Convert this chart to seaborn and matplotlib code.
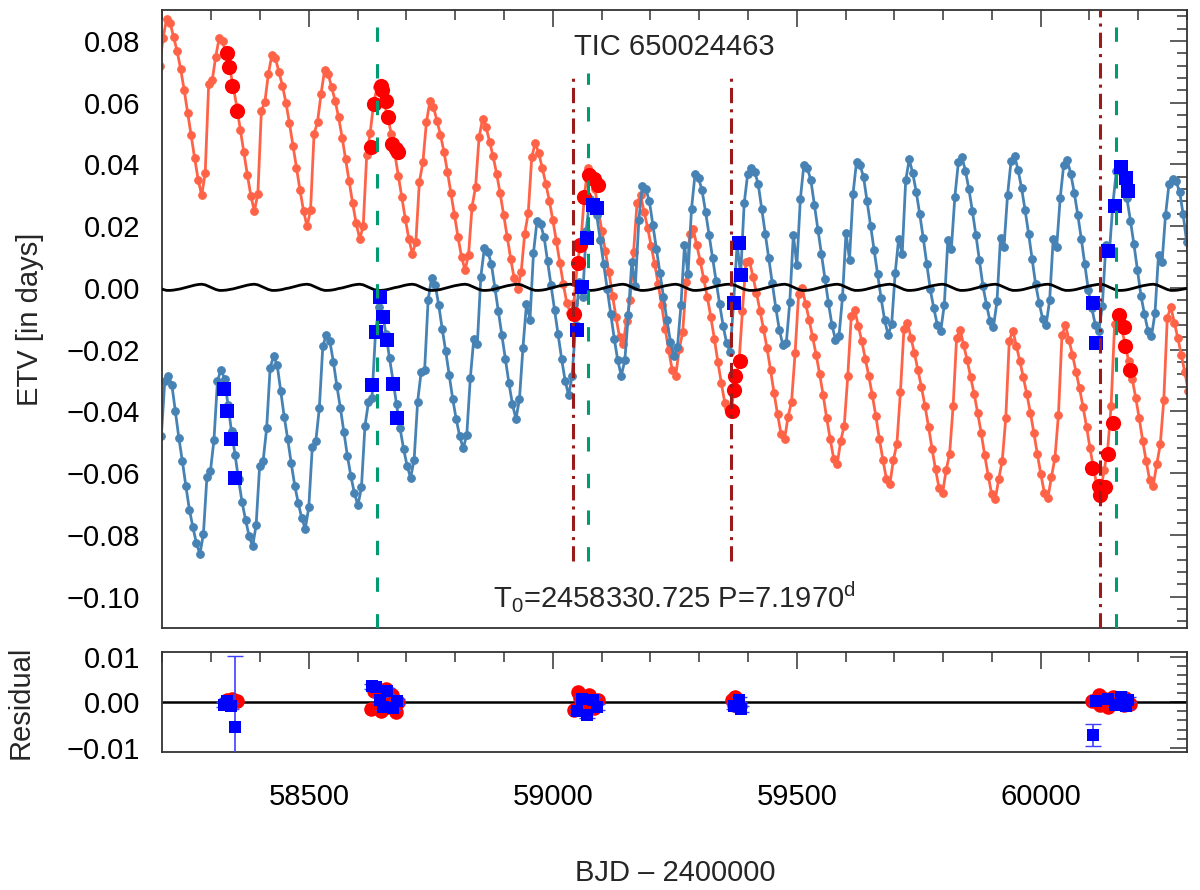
import numpy as np
import pandas as pd
import matplotlib
matplotlib.use("Agg")
import matplotlib.pyplot as plt
import seaborn as sns
from matplotlib.ticker import MultipleLocator, FuncFormatter

T0 = 58330.725
P = 7.1970
cycle = np.arange(-19, 275)

# model ETV at every cycle, one row per oscillation
prim_model = [
    0.0720, 0.0810,
    0.0870, 0.0859, 0.0813, 0.0767, 0.0710, 0.0642, 0.0568, 0.0494, 0.0420, 0.0351, 0.0300, 0.0371, 0.0662, 0.0672, 0.0749,
    0.0810, 0.0799, 0.0754, 0.0709, 0.0653, 0.0586, 0.0513, 0.0440, 0.0367, 0.0299, 0.0249, 0.0305, 0.0573, 0.0603, 0.0694,
    0.0755, 0.0744, 0.0700, 0.0655, 0.0600, 0.0533, 0.0461, 0.0389, 0.0317, 0.0250, 0.0200, 0.0251, 0.0498, 0.0538, 0.0629,
    0.0705, 0.0694, 0.0651, 0.0607, 0.0552, 0.0487, 0.0416, 0.0345, 0.0274, 0.0209, 0.0160, 0.0199, 0.0430, 0.0503, 0.0601,
    0.0650, 0.0639, 0.0596, 0.0553, 0.0499, 0.0434, 0.0364, 0.0294, 0.0223, 0.0159, 0.0110, 0.0150, 0.0343, 0.0407, 0.0536,
    0.0605, 0.0586, 0.0542, 0.0496, 0.0441, 0.0376, 0.0306, 0.0235, 0.0165, 0.0101, 0.0058, 0.0107, 0.0263, 0.0327, 0.0488,
    0.0547, 0.0521, 0.0474, 0.0426, 0.0370, 0.0306, 0.0237, 0.0165, 0.0095, 0.0031, -0.0005, 0.0052, 0.0176, 0.0242, 0.0423,
    0.0470, 0.0436, 0.0389, 0.0338, 0.0283, 0.0220, 0.0152, 0.0081, 0.0012, -0.0050, -0.0080, -0.0050, 0.0080, 0.0150, 0.0300,
    0.0390, 0.0360, 0.0320, 0.0250, 0.0184, 0.0120, 0.0050, -0.0025, -0.0095, -0.0159, -0.0183, -0.0106, -0.0038, 0.0116, 0.0276,
    0.0300, 0.0247, 0.0195, 0.0136, 0.0078, 0.0014, -0.0056, -0.0132, -0.0202, -0.0266, -0.0284, -0.0199, -0.0142, 0.0019, 0.0176,
    0.0190, 0.0138, 0.0086, 0.0028, -0.0030, -0.0094, -0.0164, -0.0239, -0.0309, -0.0373, -0.0390, -0.0385, -0.0290, -0.0247, -0.0075, 0.0083,
    0.0088, 0.0036, -0.0016, -0.0074, -0.0132, -0.0195, -0.0265, -0.0340, -0.0409, -0.0473, -0.0490, -0.0417, -0.0368, -0.0211, -0.0020,
    0.0000, -0.0051, -0.0103, -0.0160, -0.0217, -0.0279, -0.0348, -0.0422, -0.0490, -0.0553, -0.0570, -0.0495, -0.0446, -0.0286, -0.0092,
    -0.0072, -0.0123, -0.0173, -0.0230, -0.0286, -0.0348, -0.0415, -0.0489, -0.0556, -0.0618, -0.0635, -0.0557, -0.0504, -0.0337, -0.0133,
    -0.0112, -0.0162, -0.0212, -0.0267, -0.0322, -0.0383, -0.0449, -0.0521, -0.0588, -0.0648, -0.0665, -0.0591, -0.0538, -0.0384, -0.0161,
    -0.0135, -0.0185, -0.0234, -0.0289, -0.0344, -0.0405, -0.0470, -0.0542, -0.0608, -0.0669, -0.0685, -0.0619, -0.0559, -0.0422, -0.0171,
    -0.0138, -0.0187, -0.0236, -0.0290, -0.0344, -0.0404, -0.0469, -0.0539, -0.0604, -0.0664, -0.0680, -0.0613, -0.0551, -0.0411, -0.0154,
    -0.0120, -0.0169, -0.0217, -0.0271, -0.0325, -0.0385, -0.0449, -0.0520, -0.0584, -0.0644, -0.0660, -0.0591, -0.0527, -0.0383, -0.0117,
    -0.0082, -0.0132, -0.0182, -0.0238, -0.0294, -0.0355, -0.0422, -0.0495, -0.0562, -0.0623, -0.0640, -0.0571, -0.0507, -0.0363, -0.0097,
    -0.0062, -0.0112, -0.0162, -0.0217, -0.0273, -0.0335,
]

sec_model = [
    -0.0480, -0.0300,
    -0.0284, -0.0313, -0.0400, -0.0486, -0.0561, -0.0642, -0.0718, -0.0775, -0.0827, -0.0862, -0.0796, -0.0611, -0.0593, -0.0492, -0.0301,
    -0.0265, -0.0294, -0.0379, -0.0465, -0.0540, -0.0620, -0.0694, -0.0751, -0.0803, -0.0837, -0.0769, -0.0578, -0.0560, -0.0455, -0.0258,
    -0.0221, -0.0249, -0.0333, -0.0417, -0.0489, -0.0568, -0.0640, -0.0696, -0.0746, -0.0780, -0.0711, -0.0516, -0.0497, -0.0390, -0.0189,
    -0.0151, -0.0173, -0.0239, -0.0317, -0.0389, -0.0466, -0.0544, -0.0610, -0.0665, -0.0704, -0.0646, -0.0447, -0.0370, -0.0357, -0.0145,
    -0.0062, -0.0084, -0.0150, -0.0228, -0.0300, -0.0377, -0.0455, -0.0521, -0.0576, -0.0615, -0.0557, -0.0369, -0.0272, -0.0265, -0.0038,
    0.0033, 0.0011, -0.0055, -0.0133, -0.0205, -0.0282, -0.0360, -0.0426, -0.0481, -0.0520, -0.0475, -0.0293, -0.0164, -0.0183, 0.0037,
    0.0128, 0.0117, 0.0078, 0.0001, -0.0076, -0.0154, -0.0231, -0.0308, -0.0377, -0.0424, -0.0360, -0.0193, -0.0052, -0.0103, 0.0114,
    0.0217, 0.0206, 0.0166, 0.0087, 0.0008, -0.0071, -0.0150, -0.0229, -0.0300, -0.0348, -0.0285, -0.0119, 0.0020, -0.0030, 0.0185,
    0.0287, 0.0276, 0.0236, 0.0156, 0.0076, -0.0004, -0.0084, -0.0164, -0.0235, -0.0284, -0.0235, -0.0087, 0.0085, 0.0005, 0.0220,
    0.0331, 0.0320, 0.0281, 0.0204, 0.0127, 0.0049, -0.0028, -0.0105, -0.0174, -0.0221, -0.0192, -0.0056, 0.0138, 0.0044, 0.0256,
    0.0368, 0.0356, 0.0316, 0.0247, 0.0172, 0.0097, 0.0022, -0.0052, -0.0122, -0.0179, -0.0208, -0.0047, 0.0143, 0.0042, 0.0274, 0.0369,
    0.0387, 0.0376, 0.0336, 0.0256, 0.0176, 0.0096, 0.0016, -0.0064, -0.0135, -0.0184, -0.0178, -0.0044, 0.0172, 0.0073, 0.0288,
    0.0399, 0.0388, 0.0348, 0.0269, 0.0189, 0.0110, 0.0030, -0.0049, -0.0120, -0.0168, -0.0156, -0.0030, 0.0178, 0.0092, 0.0305,
    0.0409, 0.0398, 0.0359, 0.0280, 0.0201, 0.0123, 0.0044, -0.0034, -0.0104, -0.0152, -0.0118, 0.0047, 0.0160, 0.0109, 0.0348,
    0.0416, 0.0372, 0.0311, 0.0239, 0.0161, 0.0078, -0.0005, -0.0066, -0.0119, -0.0138, -0.0054, 0.0154, 0.0126, 0.0295, 0.0407,
    0.0424, 0.0380, 0.0320, 0.0248, 0.0171, 0.0089, 0.0006, -0.0054, -0.0107, -0.0126, -0.0043, 0.0162, 0.0134, 0.0300, 0.0410,
    0.0427, 0.0383, 0.0323, 0.0252, 0.0176, 0.0094, 0.0012, -0.0048, -0.0100, -0.0119, -0.0039, 0.0158, 0.0132, 0.0291, 0.0398,
    0.0414, 0.0370, 0.0309, 0.0237, 0.0160, 0.0077, -0.0006, -0.0066, -0.0119, -0.0138, -0.0058, 0.0139, 0.0113, 0.0272, 0.0379,
    0.0395, 0.0351, 0.0290, 0.0218, 0.0141, 0.0058, -0.0025, -0.0085, -0.0138, -0.0157, -0.0081, 0.0108, 0.0083, 0.0236, 0.0338,
    0.0353, 0.0345, 0.0312, 0.0240, 0.0150, 0.0065,
]

mean_model = [
    0.0000, -0.0005,
    -0.0008, -0.0008, -0.0007, -0.0005, -0.0003, 0.0000, 0.0003, 0.0006, 0.0009, 0.0011, 0.0012, 0.0010, 0.0005, 0.0000, -0.0005,
    -0.0008, -0.0008, -0.0007, -0.0005, -0.0003, 0.0000, 0.0003, 0.0006, 0.0009, 0.0011, 0.0012, 0.0010, 0.0005, 0.0000, -0.0005,
    -0.0008, -0.0008, -0.0007, -0.0005, -0.0002, 0.0000, 0.0003, 0.0006, 0.0009, 0.0011, 0.0012, 0.0010, 0.0005, 0.0000, -0.0005,
    -0.0008, -0.0008, -0.0007, -0.0005, -0.0002, 0.0000, 0.0003, 0.0006, 0.0009, 0.0011, 0.0012, 0.0010, 0.0005, 0.0000, -0.0005,
    -0.0008, -0.0008, -0.0007, -0.0005, -0.0002, 0.0001, 0.0003, 0.0006, 0.0009, 0.0011, 0.0012, 0.0010, 0.0005, 0.0000, -0.0005,
    -0.0008, -0.0008, -0.0007, -0.0005, -0.0002, 0.0001, 0.0004, 0.0007, 0.0009, 0.0011, 0.0012, 0.0010, 0.0005, 0.0000, -0.0005,
    -0.0008, -0.0008, -0.0007, -0.0005, -0.0002, 0.0001, 0.0004, 0.0007, 0.0009, 0.0011, 0.0012, 0.0010, 0.0005, 0.0000, -0.0005,
    -0.0008, -0.0008, -0.0007, -0.0005, -0.0002, 0.0001, 0.0004, 0.0007, 0.0009, 0.0011, 0.0012, 0.0010, 0.0005, 0.0000, -0.0005,
    -0.0008, -0.0008, -0.0007, -0.0005, -0.0002, 0.0001, 0.0004, 0.0007, 0.0009, 0.0011, 0.0012, 0.0010, 0.0005, 0.0000, -0.0005,
    -0.0008, -0.0008, -0.0007, -0.0005, -0.0002, 0.0001, 0.0004, 0.0007, 0.0009, 0.0011, 0.0012, 0.0010, 0.0005, 0.0000, -0.0005,
    -0.0008, -0.0008, -0.0007, -0.0005, -0.0002, 0.0001, 0.0004, 0.0007, 0.0009, 0.0011, 0.0012, 0.0011, 0.0008, 0.0003, -0.0002, -0.0006,
    -0.0008, -0.0008, -0.0007, -0.0005, -0.0002, 0.0001, 0.0004, 0.0007, 0.0009, 0.0011, 0.0012, 0.0010, 0.0005, 0.0000, -0.0005,
    -0.0008, -0.0008, -0.0007, -0.0005, -0.0002, 0.0001, 0.0004, 0.0007, 0.0009, 0.0011, 0.0012, 0.0010, 0.0005, 0.0000, -0.0005,
    -0.0008, -0.0008, -0.0007, -0.0005, -0.0002, 0.0001, 0.0004, 0.0007, 0.0009, 0.0011, 0.0012, 0.0010, 0.0005, 0.0000, -0.0005,
    -0.0008, -0.0008, -0.0007, -0.0005, -0.0002, 0.0001, 0.0004, 0.0007, 0.0009, 0.0011, 0.0012, 0.0010, 0.0005, 0.0000, -0.0005,
    -0.0008, -0.0008, -0.0007, -0.0005, -0.0002, 0.0001, 0.0004, 0.0007, 0.0009, 0.0011, 0.0012, 0.0010, 0.0005, 0.0000, -0.0005,
    -0.0008, -0.0008, -0.0007, -0.0005, -0.0002, 0.0001, 0.0004, 0.0007, 0.0009, 0.0011, 0.0012, 0.0010, 0.0005, 0.0000, -0.0005,
    -0.0008, -0.0008, -0.0007, -0.0005, -0.0002, 0.0001, 0.0004, 0.0007, 0.0009, 0.0011, 0.0012, 0.0010, 0.0005, 0.0000, -0.0005,
    -0.0008, -0.0008, -0.0007, -0.0005, -0.0002, 0.0001, 0.0004, 0.0007, 0.0009, 0.0011, 0.0012, 0.0010, 0.0005, 0.0000, -0.0005,
    -0.0008, -0.0008, -0.0007, -0.0005, -0.0003, 0.0000,
]

# measured primary minima (red) and secondary minima (blue)
prim_bjd = [58332.4, 58335.7, 58342.7, 58353.0,
            58626.7, 58633.5, 58647.0, 58650.5, 58657.5, 58662.0, 58671.0, 58678.0, 58682.0,
            59043.0, 59051.0, 59056.5, 59064.7, 59075.0, 59085.0, 59092.0,
            59367.0, 59370.5, 59374.0, 59383.0,
            60105.0, 60119.0, 60122.0, 60132.5, 60138.0, 60148.0, 60160.0, 60170.0, 60173.5, 60184.0]
prim_etv = [0.0762, 0.0714, 0.0655, 0.0574,
            0.0456, 0.0596, 0.0655, 0.0640, 0.0606, 0.0555, 0.0467, 0.0451, 0.0440,
            -0.0084, 0.0080, 0.0139, 0.0295, 0.0365, 0.0354, 0.0332,
            -0.0399, -0.0330, -0.0286, -0.0238,
            -0.0583, -0.0640, -0.0672, -0.0646, -0.0538, -0.0437, -0.0088, -0.0126, -0.0189, -0.0265]
prim_res = [0.0005, -0.0003, 0.0008, 0.0002,
            -0.0015, 0.0025, -0.0020, 0.0010, 0.0030, -0.0010, 0.0015, -0.0022, 0.0000,
            -0.0018, 0.0022, 0.0010, -0.0008, 0.0015, -0.0012, 0.0005,
            0.0006, -0.0005, 0.0012, -0.0009,
            0.0003, 0.0015, -0.0006, 0.0008, -0.0010, 0.0012, 0.0004, -0.0005, 0.0010, -0.0004]
prim_err = [0.0006] * len(prim_bjd)

sec_bjd = [58327.0, 58332.0, 58341.0, 58349.0,
           58629.0, 58637.0, 58645.0, 58652.0, 58660.0, 58672.0, 58680.0,
           59049.0, 59059.0, 59069.6, 59082.0, 59090.0,
           59371.5, 59381.7, 59386.5,
           60107.0, 60114.0, 60138.0, 60152.0, 60165.0, 60174.0, 60180.0]
sec_etv = [-0.0329, -0.0399, -0.0488, -0.0616,
           -0.0316, -0.0144, -0.0028, -0.0093, -0.0170, -0.0310, -0.0420,
           -0.0135, 0.0002, 0.0163, 0.0268, 0.0260,
           -0.0049, 0.0144, 0.0042,
           -0.0050, -0.0180, 0.0119, 0.0266, 0.0391, 0.0357, 0.0313]
sec_res = [-0.0005, 0.0003, -0.0008, -0.0054,
           0.0035, 0.0033, 0.0005, -0.0010, 0.0025, -0.0012, 0.0002,
           -0.0020, 0.0008, -0.0028, 0.0005, -0.0010,
           -0.0008, 0.0006, -0.0015,
           -0.0072, 0.0003, 0.0008, -0.0005, 0.0012, -0.0008, 0.0006]
sec_err = [0.0006, 0.0006, 0.0006, 0.0155,
           0.0006, 0.0006, 0.0006, 0.0006, 0.0006, 0.0006, 0.0006,
           0.0006, 0.0006, 0.0006, 0.0006, 0.0006,
           0.0006, 0.0006, 0.0006,
           0.0025, 0.0006, 0.0006, 0.0006, 0.0006, 0.0006, 0.0006]

green_full = [58639.0, 60155.0]
green_short = [59072.0]
red_full = [60122.0]
red_short = [59041.0, 59366.0]

ORANGE = '#FF6347'
STEEL = '#4682B4'
GREEN = '#009B6E'
DARKRED = '#9B1B1B'
FS = 21

sns.set_theme(style='white')
plt.rcParams['font.family'] = ['Liberation Sans', 'DejaVu Sans']
plt.rcParams['mathtext.fontset'] = 'custom'
plt.rcParams['mathtext.rm'] = 'Liberation Sans'
plt.rcParams['mathtext.it'] = 'Liberation Sans:italic'
plt.rcParams['axes.unicode_minus'] = True

model = pd.DataFrame({'bjd_p': T0 + P * cycle,
                      'bjd_s': T0 + P * (cycle + 0.5),
                      'prim': prim_model,
                      'sec': sec_model,
                      'mean': mean_model})

fig = plt.figure(figsize=(12, 8.9), dpi=100)
ax = fig.add_axes([0.1354, 0.2949, 0.8538, 0.6938])
axr = fig.add_axes([0.1354, 0.1547, 0.8538, 0.1124])

sns.lineplot(data=model, x='bjd_p', y='prim', ax=ax, color=ORANGE, linewidth=2.0,
             marker='o', markersize=5.5, markeredgecolor=ORANGE, sort=False, estimator=None, zorder=2)
sns.lineplot(data=model, x='bjd_s', y='sec', ax=ax, color=STEEL, linewidth=2.0,
             marker='o', markersize=5.5, markeredgecolor=STEEL, sort=False, estimator=None, zorder=2)
sns.lineplot(data=model, x='bjd_p', y='mean', ax=ax, color='black', linewidth=2.0,
             sort=False, estimator=None, zorder=3)

sns.scatterplot(x=prim_bjd, y=prim_etv, ax=ax, color='red', marker='o', s=120, linewidth=0, zorder=4)
sns.scatterplot(x=sec_bjd, y=sec_etv, ax=ax, color='blue', marker='s', s=90, linewidth=0, zorder=4)

dash = (0, (4.7, 7.3))
dashdot = (0, (5, 2, 1, 2))
for x in green_full:
    ax.axvline(x, color=GREEN, lw=2.2, ls=dash, zorder=5)
for x in green_short:
    ax.axvline(x, ymin=0.108, ymax=0.898, color=GREEN, lw=2.2, ls=dash, zorder=5)
for x in red_full:
    ax.axvline(x, color=DARKRED, lw=2.2, ls=dashdot, zorder=5)
for x in red_short:
    ax.axvline(x, ymin=0.108, ymax=0.891, color=DARKRED, lw=2.2, ls=dashdot, zorder=5)

ax.text(0.5, 0.940, 'TIC 650024463', transform=ax.transAxes, ha='center', va='center', fontsize=FS)
ax.text(0.5, 0.049, r'T$_{\mathrm{0}}$=2458330.725 P=7.1970$^{\mathrm{d}}$', transform=ax.transAxes,
        ha='center', va='center', fontsize=FS)

# residuals
axr.axhline(0, color='black', lw=1.8, zorder=1)
axr.errorbar(prim_bjd, prim_res, yerr=prim_err, fmt='none', ecolor='red', elinewidth=1, capsize=4, zorder=2)
sns.scatterplot(x=prim_bjd, y=prim_res, ax=axr, color='red', marker='o', s=110, linewidth=0, zorder=3)
axr.errorbar(sec_bjd, sec_res, yerr=sec_err, fmt='none', ecolor='#3f3fff', elinewidth=1.2, capsize=6, zorder=4)
sns.scatterplot(x=sec_bjd, y=sec_res, ax=axr, color='blue', marker='s', s=85, linewidth=0, zorder=5)

ax.set_xlim(58200, 60300)
axr.set_xlim(58200, 60300)
ax.set_ylim(-0.11, 0.09)
axr.set_ylim(-0.011, 0.011)


def fmt2(v, pos):
    if abs(v) < 1e-9:
        v = 0.0
    return '{:.2f}'.format(v).replace('-', '\u2212')


for a in (ax, axr):
    a.set_xlabel('')
    a.set_ylabel('')
    a.xaxis.set_major_locator(MultipleLocator(500))
    a.xaxis.set_minor_locator(MultipleLocator(100))
    a.yaxis.set_major_formatter(FuncFormatter(fmt2))
    a.tick_params(which='both', direction='in', top=True, right=True, color='#333333',
                  width=1.1, labelsize=FS, labelcolor='black')
    a.tick_params(which='major', length=12)
    a.tick_params(which='minor', length=7)
    a.tick_params(axis='y', pad=16)
    a.tick_params(axis='x', pad=22)
    for s in a.spines.values():
        s.set_linewidth(1.3)
        s.set_color('#333333')

ax.yaxis.set_major_locator(MultipleLocator(0.02))
ax.yaxis.set_minor_locator(MultipleLocator(0.004))
ax.tick_params(axis='x', labelbottom=False)
axr.yaxis.set_major_locator(MultipleLocator(0.01))
axr.yaxis.set_minor_locator(MultipleLocator(0.002))

fig.text(0.025, 0.6416, 'ETV [in days]', rotation=90, ha='center', va='center', fontsize=FS)
fig.text(0.0175, 0.2112, 'Residual', rotation=90, ha='center', va='center', fontsize=FS)
fig.text(0.5623, 0.0191, 'BJD \u2013 2400000', ha='center', va='center', fontsize=FS)

fig.savefig('out.png', dpi=100)
